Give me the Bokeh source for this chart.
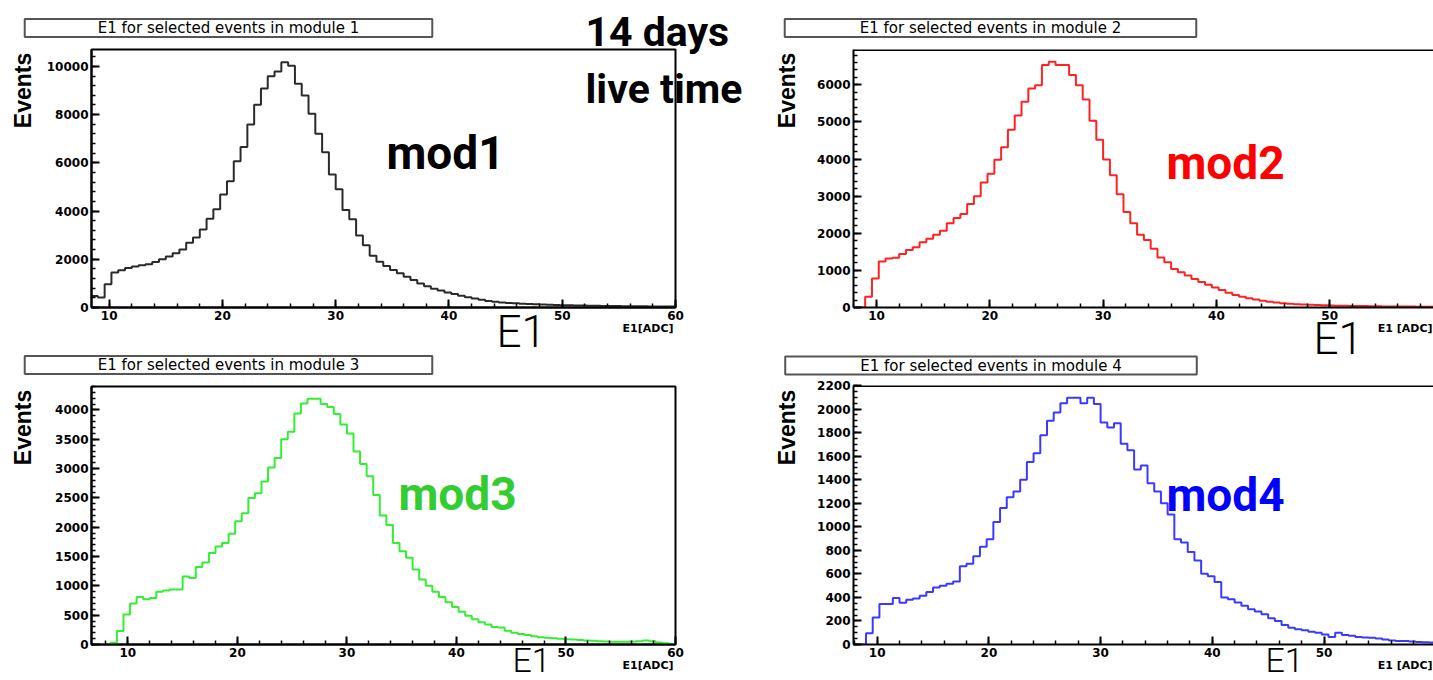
import numpy as np
from bokeh.plotting import figure
from bokeh.models import Label, SingleIntervalTicker, Range1d, Span, BasicTickFormatter, GridBox
from bokeh.layouts import row, column
from bokeh.embed import file_html
from bokeh.resources import INLINE

# ---------------- data (E1 histograms, bin width 0.6 ADC) ----------------
BIN_WIDTH = 0.6

mod1_start = 8.4
mod1_counts = [
    480, 410, 965, 1450, 1545, 1640, 1700, 1750, 1790, 1890,
    2000, 2110, 2250, 2410, 2690, 2900, 3240, 3680, 4070, 4690,
    5240, 6070, 6660, 7590, 8410, 9080, 9590, 9790, 10170, 10030,
    9280, 8790, 8040, 7210, 6440, 5520, 4900, 4040, 3660, 2990,
    2580, 2150, 1900, 1720, 1560, 1420, 1280, 1140, 1000, 880,
    780, 700, 620, 560, 490, 430, 370, 320, 270, 235,
    205, 190, 175, 160, 145, 132, 120, 110, 100, 95,
    90, 85, 80, 75, 70, 65, 62, 60, 55, 52,
    50, 48, 45, 42, 40, 38]

mod2_start = 7.8
mod2_counts = [
    0, 0, 290, 780, 1240, 1320, 1340, 1440, 1550, 1620,
    1760, 1850, 1960, 2070, 2270, 2410, 2520, 2790, 3000, 3370,
    3600, 3980, 4320, 4790, 5170, 5540, 5900, 5990, 6530, 6620,
    6530, 6530, 6260, 5990, 5600, 5030, 4520, 3990, 3560, 3050,
    2570, 2270, 1960, 1820, 1580, 1350, 1220, 1040, 950, 860,
    770, 690, 610, 540, 470, 400, 340, 290, 250, 215,
    180, 155, 135, 115, 100, 90, 80, 72, 65, 60,
    55, 50, 45, 42, 40, 38, 35, 32, 30, 28,
    27, 25, 24, 22, 21, 20, 20]

mod3_start = 6.6
mod3_counts = [
    0, 0, 0, 30, 230, 510, 700, 810, 770, 795,
    900, 920, 940, 940, 1160, 1135, 1320, 1400, 1560, 1670,
    1730, 1890, 2100, 2240, 2500, 2580, 2780, 3020, 3180, 3500,
    3630, 3940, 4110, 4190, 4190, 4100, 4050, 3930, 3750, 3600,
    3290, 3080, 2870, 2550, 2200, 2040, 1730, 1590, 1480, 1280,
    1110, 1000, 900, 810, 720, 640, 560, 490, 430, 380,
    340, 300, 290, 235, 200, 180, 160, 140, 125, 115,
    105, 100, 90, 85, 78, 70, 62, 57, 50, 45,
    45, 45, 50, 55, 70, 55, 35, 20, 10]

mod4_start = 7.8
mod4_counts = [
    0, 0, 95, 230, 345, 345, 395, 355, 380, 390,
    415, 445, 485, 500, 515, 535, 665, 685, 750, 830,
    895, 1040, 1160, 1250, 1300, 1400, 1550, 1625, 1777, 1900,
    1970, 2050, 2095, 2095, 2050, 2095, 2043, 1885, 1843, 1880,
    1706, 1650, 1486, 1520, 1370, 1300, 1200, 1105, 895, 866,
    786, 714, 600, 580, 530, 400, 385, 357, 329, 300,
    280, 257, 223, 200, 166, 143, 129, 120, 109, 100,
    86, 63, 100, 80, 75, 63, 60, 57, 50, 43,
    35, 29, 29, 25, 22, 20, 18]

titles = ["E1 for selected events in module 1", "E1 for selected events in module 2",
          "E1 for selected events in module 3", "E1 for selected events in module 4"]
mod_names = ["mod1", "mod2", "mod3", "mod4"]
axis_titles = ["E1[ADC]", "E1 [ADC]", "E1[ADC]", "E1 [ADC]"]
y_axis_title = "Events"
big_axis_title = "E1"
live_time_lines = ["14 days", "live time"]

# ---------------- layout geometry (absolute page pixels) ----------------
PAGE_W, PAGE_H = 1433, 680
G = [
    dict(ox=0, oy=0, W=745, H=350, L=91, R=675, T=49, B=307, x0=8.44, x1=60.0, y1=10700,
         yint=2000, ymin=5, line="#2a2a2a", txt="black", full=True,
         box=(24, 432, 19, 36), ev=(22, 90), mod=(445, 152), e1=(496, 331, 44), adc=(673, 328)),
    dict(ox=745, oy=0, W=688, H=356, L=853, R=1433, T=49, B=307, x0=7.97, x1=59.16, y1=6950,
         yint=1000, ymin=5, line="#ff2222", txt="#ff0000", full=False,
         box=(784, 1196, 19, 36), ev=(786, 90), mod=(1225, 162), e1=(1313, 338, 44), adc=(1432, 328)),
    dict(ox=0, oy=350, W=745, H=330, L=91, R=675, T=386, B=644, x0=6.68, x1=60.0, y1=4400,
         yint=500, ymin=5, line="#33ee33", txt="#33cc33", full=True,
         box=(24, 432, 356, 373), ev=(22, 427), mod=(457, 493), e1=(512, 659, 34), adc=(673, 665)),
    dict(ox=745, oy=356, W=688, H=324, L=852, R=1433, T=385, B=644, x0=7.88, x1=59.8, y1=2200,
         yint=200, ymin=4, line="#3a3aff", txt="#0000ff", full=False,
         box=(784, 1197, 357, 373), ev=(786, 427), mod=(1225, 494), e1=(1265, 659, 34), adc=(1432, 665)),
]

BOLD_FONT = "Roboto"
THIN_FONT = "'Roboto Light', 'DejaVu Sans Condensed', Roboto, sans-serif"
TITLE_FONT_PX = 15
TITLE_EM = 17.44  # approx width of the title string in em (DejaVu Sans)


def hist_xy(start, counts):
    counts = np.asarray(counts, dtype=float)
    edges = start + BIN_WIDTH * np.arange(len(counts) + 1)
    x = np.concatenate([[edges[0]], edges])
    y = np.concatenate([[0.0], counts, [counts[-1]]])
    return x, y


starts = [mod1_start, mod2_start, mod3_start, mod4_start]
counts = [mod1_counts, mod2_counts, mod3_counts, mod4_counts]
figs = []
for i, g in enumerate(G):
    p = figure(width=g["W"], height=g["H"],
               x_range=Range1d(g["x0"], g["x1"]), y_range=Range1d(0, g["y1"]),
               output_backend="svg", toolbar_location=None,
               min_border_left=g["L"] - g["ox"], min_border_right=g["ox"] + g["W"] - g["R"],
               min_border_top=g["T"] - g["oy"], min_border_bottom=g["oy"] + g["H"] - g["B"])
    p.background_fill_color = "white"
    p.border_fill_color = "white"
    p.grid.visible = False
    if g["full"]:
        p.outline_line_color = "black"
        p.outline_line_width = 2
    else:
        p.outline_line_color = None
        p.add_layout(Span(location=g["y1"], dimension="width", line_color="black", line_width=3))

    p.xaxis.ticker = SingleIntervalTicker(interval=10, num_minor_ticks=5)
    p.yaxis.ticker = SingleIntervalTicker(interval=g["yint"], num_minor_ticks=g["ymin"])
    p.yaxis.formatter = BasicTickFormatter(use_scientific=False)
    for ax in (p.xaxis[0], p.yaxis[0]):
        ax.axis_line_width = 2
        ax.axis_line_color = "black"
        ax.major_tick_in = 8
        ax.major_tick_out = 0
        ax.minor_tick_in = 4
        ax.minor_tick_out = 0
        ax.major_tick_line_width = 2
        ax.minor_tick_line_width = 1.5
        ax.major_label_text_font = "DejaVu Sans"
        ax.major_label_text_font_style = "bold"
        ax.major_label_text_font_size = "12px"
        ax.major_label_text_color = "black"
        ax.major_label_standoff = 3

    hx, hy = hist_xy(starts[i], counts[i])
    p.step(hx, hy, mode="after", line_color=g["line"], line_width=2)
    figs.append(p)

# ---------------- transparent text overlay covering the whole page ----------------
ov = figure(width=PAGE_W, height=PAGE_H, x_range=Range1d(0, PAGE_W), y_range=Range1d(PAGE_H, 0),
            x_axis_type=None, y_axis_type=None, output_backend="svg", toolbar_location=None,
            min_border=0, min_border_left=0, min_border_right=0, min_border_top=0, min_border_bottom=0)
ov.background_fill_color = None
ov.border_fill_color = None
ov.outline_line_color = None
ov.grid.visible = False


def txt(x, y, text, **kw):
    ov.add_layout(Label(x=x, y=y, text=text, text_baseline="middle", **kw))


for i, g in enumerate(G):
    bx0, bx1, by0, by1 = g["box"]
    padx = max(0, int((bx1 - bx0 - TITLE_EM * TITLE_FONT_PX) / 2))
    txt((bx0 + bx1) / 2, (by0 + by1) / 2, titles[i],
        text_font="DejaVu Sans", text_font_size=f"{TITLE_FONT_PX}px", text_color="black",
        text_align="center",
        border_line_color="#555555", border_line_width=2, background_fill_color="white",
        padding=dict(left=padx, right=padx, top=0, bottom=0))
    txt(g["ev"][0], g["ev"][1], y_axis_title, angle=np.pi / 2,
        text_font="Liberation Sans", text_font_style="bold", text_font_size="23px",
        text_align="center", text_color="black")
    txt(g["adc"][0], g["adc"][1], axis_titles[i],
        text_font="DejaVu Sans", text_font_style="bold", text_font_size="11px",
        text_align="right", text_color="black")
    ex, ey, esize = g["e1"]
    txt(ex, ey, big_axis_title,
        text_font=THIN_FONT, text_font_size=f"{esize}px",
        text_align="left", text_color="black")
    txt(g["mod"][0], g["mod"][1], mod_names[i],
        text_font=BOLD_FONT, text_font_style="bold", text_font_size="46px",
        text_align="center", text_color=g["txt"])

txt(585, 31, live_time_lines[0], text_font=BOLD_FONT, text_font_style="bold",
    text_font_size="41px", text_align="left", text_color="black")
txt(585, 88, live_time_lines[1], text_font=BOLD_FONT, text_font_style="bold",
    text_font_size="41px", text_align="left", text_color="black")

panels = row(column(figs[0], figs[2]), column(figs[1], figs[3]))
layout = GridBox(children=[(panels, 0, 0), (ov, 0, 0)])
open("out.html", "w").write(file_html(layout, INLINE))
